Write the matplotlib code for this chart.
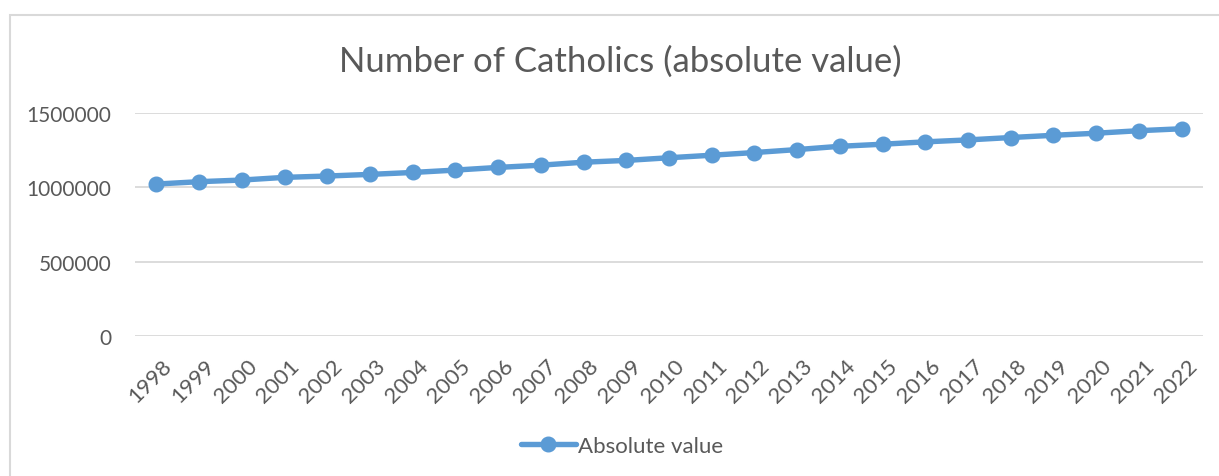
import matplotlib
matplotlib.use("Agg")
import matplotlib.pyplot as plt
from matplotlib.patches import Rectangle
from matplotlib.lines import Line2D
import matplotlib.transforms as mtransforms

years = [str(y) for y in range(1998, 2023)]
values = [1022000, 1038000, 1049000, 1067000, 1076000, 1087000, 1100000, 1116000,
          1134000, 1149000, 1169000, 1181000, 1199000, 1216000, 1234000, 1254000,
          1276000, 1290000, 1306000, 1319000, 1335000, 1350000, 1364000, 1381000,
          1394000]
yticks = [0, 500000, 1000000, 1500000]
title = "Number of Catholics (absolute value)"
series_name = "Absolute value"

plt.rcParams['font.family'] = ['Lato', 'DejaVu Sans']
W, H = 1219, 477
fig = plt.figure(figsize=(W / 100, H / 100), dpi=100)
txt = '#595959'
blue = '#5B9BD5'

# chart frame
fig.patches.append(Rectangle((10 / W, -0.1), 1.2, 1 - 16 / H + 0.1, transform=fig.transFigure,
                             fill=False, edgecolor='#D9D9D9', linewidth=1.5))

ax = fig.add_axes([135 / W, 1 - 337 / H, (1203 - 135) / W, (337 - 114) / H])
x = list(range(len(years)))
ax.plot(x, values, color=blue, linewidth=3.9, marker='o', markersize=10.5,
        markerfacecolor=blue, markeredgecolor=blue, solid_capstyle='round', zorder=3)
ax.set_xlim(-0.5, len(years) - 0.5)
ax.set_ylim(0, 1500000)
ax.set_yticks(yticks)
ax.set_yticklabels([str(v) for v in yticks])
ax.set_xticks(x)
ax.set_xticklabels(years, rotation=45, ha='right', rotation_mode='anchor')
ax.grid(axis='y', color='#D9D9D9', linewidth=1.3)
ax.set_axisbelow(True)
for s in ax.spines.values():
    s.set_visible(False)
ax.tick_params(axis='y', length=0, pad=17, labelsize=15, labelcolor=txt)
ax.tick_params(axis='x', length=0, pad=14, labelsize=16, labelcolor=txt)
for lbl in ax.get_xticklabels():
    lbl.set_transform(lbl.get_transform() + mtransforms.ScaledTranslation(5 / 100, 0, fig.dpi_scale_trans))

fig.text(620 / W, 1 - 62 / H, title, ha='center', va='center', fontsize=25, color=txt)

handle = Line2D([0], [0], color=blue, linewidth=3.9, marker='o', markersize=10.5,
                solid_capstyle='round')
fig.legend([handle], [series_name], loc='center', bbox_to_anchor=(622 / W, 1 - 447 / H),
           frameon=False, fontsize=16, labelcolor=txt, handlelength=2.5,
           handletextpad=0.1)

fig.savefig('out.png', dpi=100)
